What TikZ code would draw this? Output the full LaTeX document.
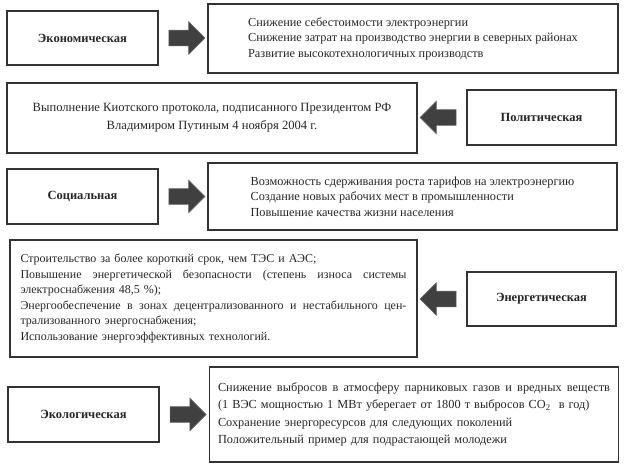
\documentclass[tikz,border=0pt]{standalone}
\usepackage{fontspec}
\setmainfont{Liberation Serif}
\usetikzlibrary{calc}
\usetikzlibrary{positioning}
\usetikzlibrary{shapes,arrows}

\newcommand{\fullline}[1]{\makebox[\linewidth][s]{\spaceskip=0pt #1}}

\begin{document}
\begin{tikzpicture}[x=1pt,y=-1pt,
  box/.style={rectangle,draw=black!80,line width=1.5pt,inner sep=0pt,text=black!85,font=\fontsize{12.3}{15.5}\selectfont},
  cat/.style={box,minimum width=151pt,minimum height=54pt,font=\fontsize{12.5}{15.5}\selectfont\bfseries},
  desc/.style={box,align=left},
  bigarrow/.style={single arrow,draw=black!60,fill=black!75,line width=0.6pt,minimum height=36pt,
    inner xsep=0pt,inner ysep=7.5pt,single arrow head extend=8.5pt,single arrow tip angle=90}]
\useasboundingbox (0,0) rectangle (624,469);

\node[cat] (econ) at (82.5,38) {Экономическая};
\node[desc,minimum width=410pt,minimum height=69pt] (econD) at (413,38.5)
  {Снижение себестоимости электроэнергии\\
   Снижение затрат на производство энергии в северных районах\\
   Развитие высокотехнологичных производств};

\node[desc,align=center,minimum width=410pt,minimum height=70pt,font=\fontsize{12.6}{18}\selectfont] (kyoto) at (212,118)
  {Выполнение Киотского протокола, подписанного Президентом РФ\\
   Владимиром Путиным 4 ноября 2004 г.};
\node[cat,minimum width=149pt,minimum height=55pt] (polit) at (541.5,117.5) {Политическая};

\node[cat,minimum height=55pt] (soc) at (82.5,196.5) {Социальная};
\node[desc,minimum width=409pt,minimum height=67pt] (socD) at (412.5,196.5)
  {Возможность сдерживания роста тарифов на электроэнергию\\
   Создание новых рабочих мест в промышленности\\
   Повышение качества жизни населения};

\node[desc,text width=386pt,minimum width=407pt,minimum height=117pt,font=\fontsize{12}{15.6}\selectfont] (energD) at (213.5,298.5)
  {Строительство за более короткий срок, чем ТЭС и АЭС;\\
   \fullline{Повышение энергетической безопасности (степень износа системы}\\
   электроснабжения 48,5 \%);\\
   \fullline{Энергообеспечение в зонах децентрализованного и нестабильного цен-}\\
   трализованного энергоснабжения;\\
   Использование энергоэффективных технологий.};
\node[cat,minimum width=149pt] (energ) at (541.5,299) {Энергетическая};

\node[cat,minimum height=55pt] (ecol) at (83.5,414.5) {Экологическая};
\node[desc,text width=392pt,minimum width=409pt,minimum height=95pt,font=\fontsize{12.3}{17.4}\selectfont] (ecolD) at (414,414.5)
  {\fullline{Снижение выбросов в атмосферу парниковых газов и вредных веществ}\\
   (1 ВЭС мощностью 1 МВт уберегает от 1800 т выбросов СО\textsubscript{2}~ в год)\\
   Сохранение энергоресурсов для следующих поколений\\
   Положительный пример для подрастающей молодежи};

% block arrows between the boxes
\node[bigarrow] (a1) at ($(econ.east)!0.5!(econ.east -| econD.west)$) {};
\node[bigarrow,shape border rotate=180] (a2) at ($(polit.west)!0.5!(polit.west -| kyoto.east)$) {};
\node[bigarrow] (a3) at ($(soc.east)!0.5!(soc.east -| socD.west)$) {};
\node[bigarrow,shape border rotate=180] (a4) at ($(energ.west)!0.5!(energ.west -| energD.east)$) {};
\node[bigarrow] (a5) at ($(ecol.east)!0.5!(ecol.east -| ecolD.west)$) {};

\end{tikzpicture}
\end{document}
